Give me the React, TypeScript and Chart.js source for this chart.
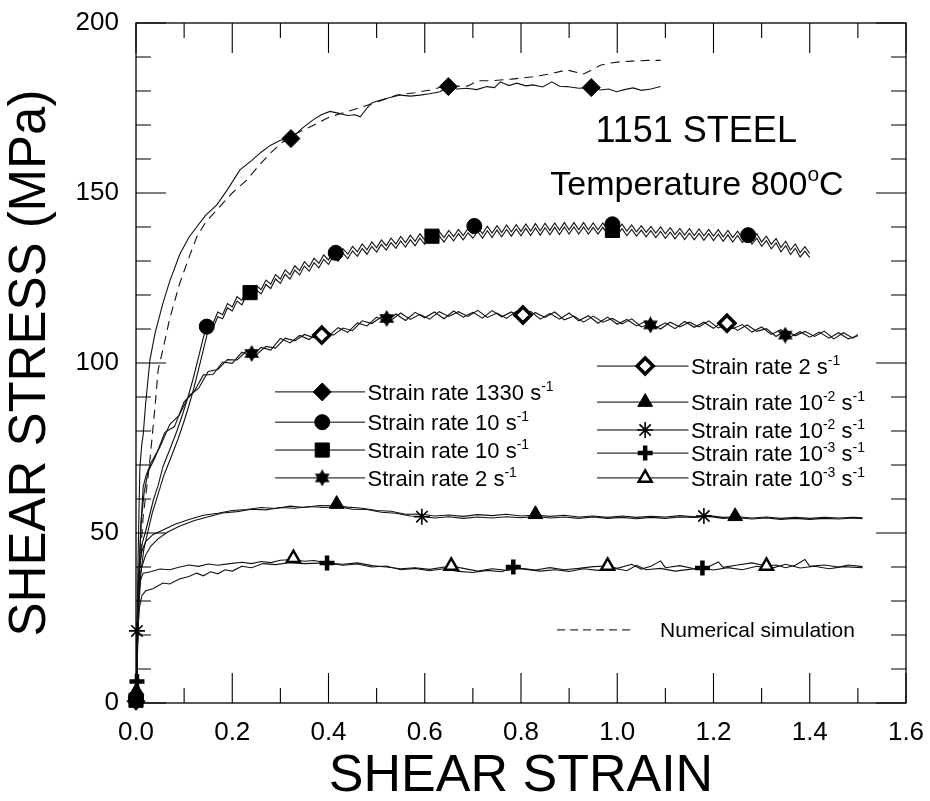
import React, { useEffect, useRef } from 'react';
import { Chart, registerables } from 'chart.js';
import { drawPoint } from 'chart.js/helpers';

Chart.register(...registerables);

type P = [number, number];

// ---------- axes ----------
const X_TICK_VALUES = [0, 0.2, 0.4, 0.6, 0.8, 1.0, 1.2, 1.4, 1.6];
const X_TICK_LABELS = ['0.0', '0.2', '0.4', '0.6', '0.8', '1.0', '1.2', '1.4', '1.6'];
const Y_TICK_VALUES = [0, 50, 100, 150, 200];
const Y_TICK_LABELS = ['0', '50', '100', '150', '200'];
const X_TITLE = 'SHEAR STRAIN';
const Y_TITLE = 'SHEAR STRESS (MPa)';

// ---------- curves (shear strain, shear stress MPa) ----------
const rate1330Measured: P[] = [
  [0, 0], [0.002, 20], [0.004, 40], [0.006, 55], [0.008, 69], [0.012, 76], [0.015, 79], [0.02, 88],
  [0.029, 101], [0.04, 109], [0.056, 117.6], [0.07, 124], [0.091, 132], [0.11, 137], [0.126, 140],
  [0.145, 143.5], [0.168, 146.5], [0.19, 151], [0.216, 156.8], [0.24, 159.5], [0.26, 162], [0.279, 164],
  [0.3, 165.5], [0.322, 166], [0.345, 169], [0.368, 171.5], [0.385, 173], [0.403, 174], [0.42, 173.5],
  [0.44, 172.8], [0.455, 173], [0.466, 172.4], [0.48, 175], [0.49, 176.5], [0.5, 177], [0.52, 177.8],
  [0.549, 178.8], [0.57, 178.5], [0.59, 178.8], [0.61, 179.2], [0.632, 179.8], [0.649, 181.3],
  [0.667, 180.6], [0.687, 180.8], [0.708, 180.4], [0.729, 181.3], [0.745, 181], [0.757, 182.7],
  [0.775, 181.6], [0.791, 182.3], [0.81, 181.5], [0.825, 181.8], [0.845, 181.2], [0.864, 182.7],
  [0.88, 181.4], [0.895, 181.3], [0.92, 180.8], [0.946, 181], [0.965, 180.3], [0.982, 180.6],
  [0.999, 179.8], [1.015, 180.4], [1.033, 180.9], [1.05, 180.2], [1.07, 180.6], [1.09, 181.3],
];

const rate1330Simulation: P[] = [
  [0, 0], [0.003, 15], [0.006, 30], [0.01, 45], [0.015, 55], [0.022, 63], [0.029, 71.5], [0.04, 88],
  [0.046, 98], [0.056, 104], [0.07, 113], [0.091, 123.5], [0.11, 131], [0.126, 137], [0.145, 141.5],
  [0.168, 145], [0.2, 150], [0.23, 153.8], [0.255, 158], [0.279, 161.7], [0.305, 165], [0.334, 167.6],
  [0.37, 170], [0.403, 172.4], [0.44, 174], [0.472, 175.4], [0.51, 177.2], [0.542, 178.8], [0.58, 179.5],
  [0.611, 180.3], [0.638, 181.3], [0.69, 181.5], [0.71, 183], [0.736, 183], [0.78, 183.5], [0.825, 184.2],
  [0.86, 185], [0.895, 186.2], [0.93, 185], [0.945, 186], [0.965, 187.6], [0.985, 188.2], [1.006, 188.6],
  [1.03, 188.8], [1.064, 189], [1.09, 189],
];

const rate10Circle: P[] = [
  [0, 0], [0.002, 12], [0.004, 25], [0.008, 40], [0.013, 47], [0.019, 50], [0.028, 55], [0.036, 59.7],
  [0.046, 64], [0.056, 69.5], [0.07, 74.5], [0.085, 80], [0.097, 85], [0.108, 90], [0.118, 95], [0.126, 99.5],
  [0.133, 103.5], [0.14, 107.5], [0.147, 110.7],
  [0.15, 112.0], [0.16, 111.6], [0.17, 115.0], [0.18, 114.2], [0.19, 117.5], [0.2, 116.5], [0.21, 119.5],
  [0.22, 118.4], [0.23, 121.2], [0.24, 120.0], [0.25, 122.8], [0.26, 121.6], [0.27, 124.4], [0.28, 123.2],
  [0.29, 126.0], [0.3, 124.7], [0.31, 127.4], [0.32, 126.0], [0.33, 128.6], [0.34, 127.2], [0.35, 129.8],
  [0.36, 128.3], [0.37, 130.8], [0.38, 129.3], [0.39, 131.8], [0.4, 130.3], [0.41, 132.8], [0.42, 131.2],
  [0.43, 133.6], [0.44, 132.0], [0.45, 134.3], [0.46, 132.7], [0.47, 135.0], [0.48, 133.3], [0.49, 135.6],
  [0.5, 133.9], [0.51, 136.2], [0.52, 134.5], [0.53, 136.7], [0.54, 135.0], [0.55, 137.2], [0.56, 135.4],
  [0.57, 137.6], [0.58, 135.8], [0.59, 138.0], [0.6, 136.2], [0.61, 138.4], [0.62, 136.6], [0.63, 138.7],
  [0.64, 136.9], [0.65, 139.0], [0.66, 137.2], [0.67, 139.3], [0.68, 137.5], [0.69, 139.6], [0.7, 138.0],
  [0.71, 140.0], [0.72, 138.0], [0.73, 140.2], [0.74, 138.2], [0.75, 140.4], [0.76, 138.4], [0.77, 140.6],
  [0.78, 138.6], [0.79, 140.7], [0.8, 138.7], [0.81, 140.9], [0.82, 138.8], [0.83, 141.0], [0.84, 138.9],
  [0.85, 141.1], [0.86, 139.0], [0.87, 141.2], [0.88, 139.1], [0.89, 141.3], [0.9, 139.2], [0.91, 141.3],
  [0.92, 139.2], [0.93, 141.3], [0.94, 139.2], [0.95, 141.2], [0.96, 139.2], [0.97, 141.2], [0.98, 139.1],
  [0.99, 141.0], [1.0, 139.0], [1.01, 140.8], [1.02, 138.8], [1.03, 140.6], [1.04, 138.6], [1.05, 140.4],
  [1.06, 138.4], [1.07, 140.2], [1.08, 138.2], [1.09, 140.0], [1.1, 138.0], [1.11, 139.8], [1.12, 137.8],
  [1.13, 139.6], [1.14, 137.6], [1.15, 139.5], [1.16, 137.5], [1.17, 139.4], [1.18, 137.4], [1.19, 139.3],
  [1.2, 137.3], [1.21, 139.2], [1.22, 137.1], [1.23, 139.0], [1.24, 136.9], [1.25, 138.8], [1.26, 136.7],
  [1.27, 138.6], [1.28, 136.3], [1.29, 138.0], [1.3, 135.6], [1.31, 137.3], [1.32, 134.9], [1.33, 136.6],
  [1.34, 134.0], [1.35, 135.8], [1.36, 133.2], [1.37, 135.0], [1.38, 132.5], [1.39, 134.2], [1.4, 132.2],
];

const rate10Square: P[] = [
  [0, 0], [0.003, 14], [0.006, 28], [0.01, 38], [0.016, 45], [0.024, 50], [0.034, 56], [0.045, 61],
  [0.058, 67], [0.072, 72], [0.087, 77.5], [0.099, 82.5], [0.11, 87.5], [0.12, 92.5], [0.128, 97], [0.135, 101],
  [0.141, 104.5], [0.147, 108],
  [0.15, 110.4], [0.16, 110.3], [0.17, 113.6], [0.18, 113.0], [0.19, 116.2], [0.2, 115.3], [0.21, 118.2],
  [0.22, 117.1], [0.23, 120.0], [0.24, 118.8], [0.25, 121.5], [0.26, 120.3], [0.27, 123.1], [0.28, 121.9],
  [0.29, 124.7], [0.3, 123.4], [0.31, 126.1], [0.32, 124.7], [0.33, 127.3], [0.34, 125.9], [0.35, 128.5],
  [0.36, 127.0], [0.37, 129.5], [0.38, 128.0], [0.39, 130.5], [0.4, 129.0], [0.41, 131.5], [0.42, 129.9],
  [0.43, 132.3], [0.44, 130.7], [0.45, 133.0], [0.46, 131.4], [0.47, 133.7], [0.48, 132.0], [0.49, 134.3],
  [0.5, 132.6], [0.51, 134.9], [0.52, 133.2], [0.53, 135.4], [0.54, 133.7], [0.55, 135.9], [0.56, 134.1],
  [0.57, 136.3], [0.58, 134.5], [0.59, 136.7], [0.6, 134.9], [0.61, 137.1], [0.62, 135.3], [0.63, 137.4],
  [0.64, 135.6], [0.65, 137.7], [0.66, 135.9], [0.67, 138.0], [0.68, 136.2], [0.69, 138.3], [0.7, 136.7],
  [0.71, 138.7], [0.72, 136.7], [0.73, 138.9], [0.74, 136.9], [0.75, 139.1], [0.76, 137.1], [0.77, 139.3],
  [0.78, 137.3], [0.79, 139.4], [0.8, 137.4], [0.81, 139.6], [0.82, 137.5], [0.83, 139.7], [0.84, 137.6],
  [0.85, 139.8], [0.86, 137.7], [0.87, 139.9], [0.88, 137.8], [0.89, 140.0], [0.9, 137.9], [0.91, 140.0],
  [0.92, 137.9], [0.93, 140.0], [0.94, 137.9], [0.95, 139.9], [0.96, 137.9], [0.97, 139.9], [0.98, 137.8],
  [0.99, 139.7], [1.0, 137.7], [1.01, 139.5], [1.02, 137.5], [1.03, 139.3], [1.04, 137.3], [1.05, 139.1],
  [1.06, 137.1], [1.07, 138.9], [1.08, 136.9], [1.09, 138.7], [1.1, 136.7], [1.11, 138.5], [1.12, 136.5],
  [1.13, 138.3], [1.14, 136.3], [1.15, 138.2], [1.16, 136.2], [1.17, 138.1], [1.18, 136.1], [1.19, 138.0],
  [1.2, 136.0], [1.21, 137.9], [1.22, 135.8], [1.23, 137.7], [1.24, 135.6], [1.25, 137.5], [1.26, 135.4],
  [1.27, 137.3], [1.28, 135.0], [1.29, 136.7], [1.3, 134.3], [1.31, 136.0], [1.32, 133.6], [1.33, 135.3],
  [1.34, 132.7], [1.35, 134.5], [1.36, 131.9], [1.37, 133.7], [1.38, 131.2], [1.39, 132.9], [1.4, 131.0],
];

const rate2Star: P[] = [
  [0, 0], [0.002, 15], [0.005, 35], [0.01, 52], [0.015, 63.6], [0.02, 66.5],
  [0.03, 70.3], [0.05, 75.4], [0.07, 81.9], [0.09, 84.7], [0.11, 90.4], [0.13, 92.5], [0.15, 97.5],
  [0.17, 98.1], [0.19, 101.0], [0.21, 100.9], [0.23, 103.6], [0.25, 102.4], [0.27, 104.9], [0.29, 104.4],
  [0.31, 107.3], [0.33, 106.5], [0.35, 108.4], [0.37, 107.4], [0.39, 109.6], [0.41, 108.2], [0.43, 110.3],
  [0.45, 109.5], [0.47, 112.4], [0.49, 111.6], [0.51, 113.6], [0.53, 112.6], [0.55, 114.7], [0.57, 112.8],
  [0.59, 114.3], [0.61, 112.9], [0.63, 115.1], [0.65, 113.7], [0.67, 115.1], [0.69, 113.7], [0.71, 115.5],
  [0.73, 113.4], [0.75, 114.7], [0.77, 113.1], [0.79, 115.2], [0.81, 113.6], [0.83, 114.8], [0.85, 113.4],
  [0.87, 115.0], [0.89, 112.7], [0.91, 113.8], [0.93, 112.0], [0.95, 113.8], [0.97, 112.0], [0.99, 113.1],
  [1.01, 111.5], [1.03, 113.0], [1.05, 110.6], [1.07, 111.6], [1.09, 110.0], [1.11, 112.0], [1.13, 110.6],
  [1.15, 112.0], [1.17, 110.6], [1.19, 112.4], [1.21, 110.3], [1.23, 111.4], [1.25, 109.6], [1.27, 111.2],
  [1.29, 109.3], [1.31, 110.1], [1.33, 107.8], [1.35, 109.6], [1.37, 108.0], [1.39, 109.3], [1.41, 107.8],
  [1.43, 109.4], [1.45, 107.1], [1.47, 108.9], [1.49, 107.3], [1.5, 108.4],
];

const rate2Diamond: P[] = [
  [0, 0], [0.003, 18], [0.006, 38], [0.011, 54], [0.017, 62], [0.025, 68],
  [0.04, 72.3], [0.06, 79.6], [0.08, 81.3], [0.1, 88.6], [0.12, 91.4], [0.14, 96.5], [0.16, 96.6],
  [0.18, 100.3], [0.2, 99.9], [0.22, 103.2], [0.24, 102.0], [0.26, 104.6], [0.28, 103.8], [0.3, 107.2],
  [0.32, 105.9], [0.34, 108.1], [0.36, 106.9], [0.38, 109.3], [0.4, 107.9], [0.42, 110.4], [0.44, 109.0],
  [0.46, 111.8], [0.48, 110.9], [0.5, 113.5], [0.52, 112.2], [0.54, 114.4], [0.56, 112.5], [0.58, 114.9],
  [0.6, 113.3], [0.62, 115.0], [0.64, 113.0], [0.66, 115.3], [0.68, 113.5], [0.7, 114.9], [0.72, 113.2],
  [0.74, 115.4], [0.76, 113.6], [0.78, 115.0], [0.8, 113.3], [0.82, 115.2], [0.84, 112.9], [0.86, 114.6],
  [0.88, 112.9], [0.9, 114.7], [0.92, 112.4], [0.94, 113.9], [0.96, 111.7], [0.98, 113.5], [1.0, 111.4],
  [1.02, 112.8], [1.04, 110.9], [1.06, 112.4], [1.08, 110.3], [1.1, 111.8], [1.12, 110.1], [1.14, 112.2],
  [1.16, 110.5], [1.18, 112.0], [1.2, 110.2], [1.22, 112.3], [1.24, 110.1], [1.26, 111.3], [1.28, 109.1],
  [1.3, 110.6], [1.32, 108.4], [1.34, 109.8], [1.36, 107.7], [1.38, 109.2], [1.4, 107.6], [1.42, 109.1],
  [1.44, 107.3], [1.46, 108.9], [1.48, 107.1], [1.5, 108.0],
];

const rate1e2Triangle: P[] = [
  [0, 0], [0.002, 18], [0.004, 32], [0.007, 40], [0.012, 44.5], [0.02, 47.5], [0.035, 49.5], [0.056, 50.9],
  [0.08, 52.5], [0.11, 54], [0.14, 55.2], [0.17, 55.8], [0.2, 56.6], [0.23, 56.9], [0.26, 57.5], [0.29, 57.2],
  [0.32, 57.9], [0.35, 57.5], [0.38, 58.1], [0.417, 58.0], [0.44, 57.6], [0.47, 57.3], [0.5, 56.6],
  [0.53, 56.4], [0.56, 55.5], [0.59, 55.6], [0.62, 55.0], [0.65, 55.3], [0.68, 54.9], [0.71, 55.4],
  [0.74, 55.1], [0.77, 55.5], [0.8, 55.0], [0.83, 55.3], [0.86, 54.9], [0.89, 55.2], [0.92, 54.7],
  [0.95, 55.0], [0.98, 54.6], [1.01, 55.0], [1.04, 54.6], [1.07, 54.9], [1.1, 54.7], [1.13, 55.1],
  [1.16, 54.8], [1.19, 55.1], [1.22, 54.6], [1.25, 54.8], [1.28, 54.4], [1.31, 54.7], [1.34, 54.3],
  [1.37, 54.6], [1.4, 54.3], [1.43, 54.6], [1.46, 54.4], [1.49, 54.6], [1.51, 54.5],
];

const rate1e2Asterisk: P[] = [
  [0, 0], [0.002, 21.2], [0.004, 30], [0.007, 36], [0.012, 40], [0.02, 43.5], [0.03, 46], [0.045, 48.2],
  [0.065, 50.2], [0.09, 52], [0.12, 53.6], [0.15, 54.8], [0.18, 55.9], [0.21, 56.3], [0.24, 57.0],
  [0.27, 56.8], [0.3, 57.5], [0.33, 57.3], [0.36, 57.8], [0.39, 57.5], [0.42, 57.7], [0.45, 57.0],
  [0.48, 56.9], [0.51, 56.1], [0.54, 55.8], [0.57, 55.0], [0.594, 54.9], [0.62, 54.4], [0.65, 54.8],
  [0.68, 54.3], [0.71, 54.7], [0.74, 54.4], [0.77, 54.8], [0.8, 54.5], [0.83, 54.9], [0.86, 54.4],
  [0.89, 54.7], [0.92, 54.3], [0.95, 54.7], [0.98, 54.3], [1.01, 54.6], [1.04, 54.2], [1.07, 54.6],
  [1.1, 54.3], [1.13, 54.7], [1.16, 54.6], [1.19, 54.9], [1.22, 54.3], [1.25, 54.5], [1.28, 54.1],
  [1.31, 54.4], [1.34, 54.0], [1.37, 54.3], [1.4, 54.0], [1.43, 54.3], [1.46, 54.1], [1.49, 54.4], [1.51, 54.2],
];

const rate1e3Triangle: P[] = [
  [0, 0], [0.002, 15], [0.005, 30], [0.009, 36], [0.015, 38.2], [0.03, 38.6], [0.05, 39.4], [0.07, 39.2],
  [0.091, 40], [0.11, 40.6], [0.13, 40.2], [0.15, 40.9], [0.17, 40.5], [0.195, 41.0], [0.22, 41.4],
  [0.24, 41.0], [0.26, 41.6], [0.28, 41.3], [0.3, 42.0], [0.327, 42.2], [0.35, 41.7], [0.37, 41.9],
  [0.4, 41.1], [0.43, 40.8], [0.46, 41.2], [0.49, 40.4], [0.52, 40.0], [0.55, 39.5], [0.58, 39.8],
  [0.61, 39.3], [0.655, 40.3], [0.68, 39.6], [0.71, 38.8], [0.74, 39.5], [0.77, 39.0], [0.8, 39.6],
  [0.83, 39.1], [0.86, 39.8], [0.89, 39.2], [0.92, 39.6], [0.95, 40.1], [0.98, 40.3], [1.0, 39.6],
  [1.03, 40.8], [1.05, 39.4], [1.07, 40.2], [1.09, 41.8], [1.1, 39.8], [1.13, 40.4], [1.16, 39.5],
  [1.19, 40.1], [1.21, 41.5], [1.22, 39.9], [1.25, 40.6], [1.28, 41.2], [1.31, 40.3], [1.33, 40.6],
  [1.35, 39.8], [1.37, 40.5], [1.39, 42.2], [1.4, 40.2], [1.43, 40.6], [1.46, 40.0], [1.48, 40.6], [1.51, 40.1],
];

const rate1e3Cross: P[] = [
  [0, 0], [0.002, 12], [0.004, 22], [0.007, 28], [0.012, 31.5], [0.02, 33], [0.035, 33.6], [0.056, 35.3],
  [0.07, 35.0], [0.09, 36.5], [0.11, 37.2], [0.126, 38.2], [0.14, 37.4], [0.155, 38.6], [0.17, 38.0],
  [0.185, 39.2], [0.2, 38.8], [0.22, 40.2], [0.24, 39.8], [0.264, 41.0], [0.29, 40.7], [0.32, 41.3],
  [0.35, 41.0], [0.397, 41.2], [0.43, 40.5], [0.46, 40.9], [0.49, 40.0], [0.52, 40.3], [0.55, 39.2],
  [0.58, 39.6], [0.61, 38.9], [0.64, 39.5], [0.67, 38.7], [0.7, 38.4], [0.73, 39.0], [0.76, 38.6],
  [0.784, 39.8], [0.81, 39.3], [0.84, 38.8], [0.87, 39.2], [0.9, 38.7], [0.93, 39.5], [0.96, 39.0],
  [0.99, 39.7], [1.02, 38.9], [1.04, 40.5], [1.06, 39.2], [1.09, 39.6], [1.12, 38.8], [1.15, 39.3],
  [1.177, 39.7], [1.2, 39.1], [1.23, 39.8], [1.26, 39.2], [1.29, 40.2], [1.32, 39.6], [1.35, 40.8],
  [1.38, 39.7], [1.41, 40.2], [1.44, 39.5], [1.47, 40.1], [1.51, 39.8],
];

// ---------- markers placed on the curves ----------
const markers1330: P[] = [[0, 0.5], [0.322, 166], [0.649, 181.3], [0.946, 181]];
const markers10Circle: P[] = [[0, 1.5], [0.147, 110.7], [0.415, 132.4], [0.703, 140.3], [0.99, 140.8], [1.272, 137.6]];
const markers10Square: P[] = [[0, 0.8], [0.237, 120.7], [0.615, 137.3], [0.99, 139]];
const markers2Star: P[] = [[0.2405, 102.8], [0.521, 113.1], [1.069, 111.2], [1.349, 108.2]];
const markers2Diamond: P[] = [[0.386, 108.2], [0.804, 114.1], [1.228, 111.7]];
const markers1e2Triangle: P[] = [[0.001, 3.5], [0.417, 58.5], [0.83, 55.5], [1.245, 54.9]];
const markers1e2Asterisk: P[] = [[0.002, 21.2], [0.594, 54.8], [1.18, 55]];
const markers1e3Cross: P[] = [[0.002, 6.3], [0.397, 41.2], [0.784, 40.0], [1.177, 39.7]];
const markers1e3Triangle: P[] = [[0.327, 42.6], [0.655, 40.3], [0.98, 40.3], [1.31, 40.3]];

// ---------- text ----------
type Rich = [string, boolean][];
const LEGEND_LEFT: Rich[] = [
  [['Strain rate 1330 s', false], ['-1', true]],
  [['Strain rate 10 s', false], ['-1', true]],
  [['Strain rate 10 s', false], ['-1', true]],
  [['Strain rate 2 s', false], ['-1', true]],
];
const LEGEND_RIGHT: Rich[] = [
  [['Strain rate 2 s', false], ['-1', true]],
  [['Strain rate 10', false], ['-2', true], [' s', false], ['-1', true]],
  [['Strain rate 10', false], ['-2', true], [' s', false], ['-1', true]],
  [['Strain rate 10', false], ['-3', true], [' s', false], ['-1', true]],
  [['Strain rate 10', false], ['-3', true], [' s', false], ['-1', true]],
];
const TITLE_1: Rich = [['1151 STEEL', false]];
const TITLE_2: Rich = [['Temperature 800', false], ['o', true], ['C', false]];
const SIM_LABEL = 'Numerical simulation';

const FONT = '"Liberation Sans", Arial, Helvetica, sans-serif';

function makeHexagram(size: number): HTMLCanvasElement {
  const c = document.createElement('canvas');
  c.width = size;
  c.height = size;
  const g = c.getContext('2d')!;
  const r = size / 2;
  g.fillStyle = '#000';
  for (const rot of [-Math.PI / 2, Math.PI / 2]) {
    g.beginPath();
    for (let k = 0; k < 3; k++) {
      const a = rot + (k * 2 * Math.PI) / 3;
      g.lineTo(r + r * Math.cos(a), r + r * Math.sin(a));
    }
    g.closePath();
    g.fill();
  }
  return c;
}

type MarkStyle = { pointStyle: any; radius: number; bg: string; bw: number };

export default function App() {
  const ref = useRef<HTMLCanvasElement | null>(null);

  useEffect(() => {
    if (!ref.current) return;
    const hexagram = makeHexagram(17);
    const S: Record<string, MarkStyle> = {
      diamond: { pointStyle: 'rectRot', radius: 9, bg: '#000', bw: 1 },
      circle: { pointStyle: 'circle', radius: 7.5, bg: '#000', bw: 1 },
      square: { pointStyle: 'rect', radius: 10, bg: '#000', bw: 1 },
      star6: { pointStyle: hexagram, radius: 8, bg: '#000', bw: 1 },
      hollowDiamond: { pointStyle: 'rectRot', radius: 8, bg: '#fff', bw: 3.5 },
      triangle: { pointStyle: 'triangle', radius: 8.5, bg: '#000', bw: 1 },
      asterisk: { pointStyle: 'star', radius: 8, bg: '#000', bw: 1.6 },
      cross: { pointStyle: 'cross', radius: 7.5, bg: '#000', bw: 4.5 },
      hollowTriangle: { pointStyle: 'triangle', radius: 7.5, bg: '#fff', bw: 2.5 },
    };

    const toXY = (d: P[]) => d.map(([x, y]) => ({ x, y }));
    const lineDs = (d: P[], dash: number[] = []) => ({
      data: toXY(d), showLine: true, borderColor: '#111', borderWidth: 1.1, pointRadius: 0,
      pointHoverRadius: 0, borderDash: dash, tension: 0, fill: false, order: 2,
    });
    const markDs = (d: P[], st: MarkStyle) => ({
      data: toXY(d), showLine: false, pointStyle: st.pointStyle, pointRadius: st.radius,
      pointHoverRadius: st.radius, pointBackgroundColor: st.bg, pointBorderColor: '#000',
      pointBorderWidth: st.bw, order: 1, clip: false,
    });

    const legendLeft: MarkStyle[] = [S.diamond, S.circle, S.square, S.star6];
    const legendRight: MarkStyle[] = [S.hollowDiamond, S.triangle, S.asterisk, S.cross, S.hollowTriangle];
    // legend rows, in data units (y = stress of the row)
    const leftRowsY = [91.5, 82.6, 74.4, 66.2];
    const rightRowsY = [99.1, 88.5, 80.3, 73.5, 66.2];

    const drawRich = (ctx: CanvasRenderingContext2D, x: number, y: number, parts: Rich, size: number, align: 'left' | 'center' = 'left') => {
      const supSize = Math.round(size * 0.62);
      let total = 0;
      for (const [t, sup] of parts) {
        ctx.font = `${sup ? supSize : size}px ${FONT}`;
        total += ctx.measureText(t).width;
      }
      let cx = align === 'center' ? x - total / 2 : x;
      ctx.textAlign = 'left';
      ctx.textBaseline = 'alphabetic';
      for (const [t, sup] of parts) {
        ctx.font = `${sup ? supSize : size}px ${FONT}`;
        ctx.fillText(t, cx, sup ? y - size * 0.42 : y);
        cx += ctx.measureText(t).width;
      }
    };

    const framePlugin = {
      id: 'frameTicks',
      afterDatasetsDraw(chart: any) {
        const { ctx, chartArea: a, scales } = chart;
        const xs = scales.x, ys = scales.y;
        ctx.save();
        ctx.strokeStyle = '#000';
        ctx.lineWidth = 1.3;
        ctx.strokeRect(a.left, a.top, a.right - a.left, a.bottom - a.top);
        ctx.lineWidth = 1.1;
        ctx.beginPath();
        for (let i = 0; i <= 16; i++) {
          const px = xs.getPixelForValue(i / 10);
          const len = i % 2 === 0 ? 30 : 15;
          ctx.moveTo(px, a.bottom); ctx.lineTo(px, a.bottom - len);
          ctx.moveTo(px, a.top); ctx.lineTo(px, a.top + len);
        }
        for (let i = 0; i <= 20; i++) {
          const py = ys.getPixelForValue(i * 10);
          const len = i % 5 === 0 ? 30 : 15;
          ctx.moveTo(a.left, py); ctx.lineTo(a.left + len, py);
          ctx.moveTo(a.right, py); ctx.lineTo(a.right - len, py);
        }
        ctx.stroke();
        ctx.restore();
      },
    };

    const notesPlugin = {
      id: 'notes',
      afterDraw(chart: any) {
        const { ctx, scales } = chart;
        const X = (v: number) => scales.x.getPixelForValue(v);
        const Y = (v: number) => scales.y.getPixelForValue(v);
        ctx.save();
        ctx.fillStyle = '#000';
        ctx.strokeStyle = '#000';

        const row = (x0: number, xm: number, x1: number, xt: number, yv: number, st: MarkStyle, label: Rich) => {
          const py = Y(yv);
          ctx.lineWidth = 1;
          ctx.setLineDash([]);
          ctx.beginPath();
          ctx.moveTo(X(x0), py);
          ctx.lineTo(X(x1), py);
          ctx.stroke();
          ctx.fillStyle = st.bg;
          ctx.strokeStyle = '#000';
          ctx.lineWidth = st.bw;
          drawPoint(ctx, { pointStyle: st.pointStyle, radius: st.radius, borderWidth: st.bw, rotation: 0 } as any, X(xm), py);
          ctx.fillStyle = '#000';
          drawRich(ctx, X(xt), py + 8, label, 22);
        };
        LEGEND_LEFT.forEach((lab, i) => row(0.289, 0.387, 0.476, 0.481, leftRowsY[i], legendLeft[i], lab));
        LEGEND_RIGHT.forEach((lab, i) => row(0.958, 1.058, 1.148, 1.153, rightRowsY[i], legendRight[i], lab));

        // numerical simulation key
        ctx.lineWidth = 1;
        ctx.setLineDash([8, 5]);
        ctx.beginPath();
        ctx.moveTo(X(0.875), Y(21.5));
        ctx.lineTo(X(1.035), Y(21.5));
        ctx.stroke();
        ctx.setLineDash([]);
        ctx.fillStyle = '#000';
        ctx.font = `21px ${FONT}`;
        ctx.textAlign = 'left';
        ctx.textBaseline = 'alphabetic';
        ctx.fillText(SIM_LABEL, X(1.089), Y(21.5) + 7.5);

        drawRich(ctx, X(1.164), Y(165), TITLE_1, 36, 'center');
        drawRich(ctx, X(0.861), Y(149.4), TITLE_2, 34, 'left');
        ctx.restore();
      },
    };

    const chart = new Chart(ref.current, {
      type: 'scatter',
      data: {
        datasets: [
          markDs(markers1330, S.diamond),
          markDs(markers10Circle, S.circle),
          markDs(markers10Square, S.square),
          markDs(markers2Star, S.star6),
          markDs(markers2Diamond, S.hollowDiamond),
          markDs(markers1e2Triangle, S.triangle),
          markDs(markers1e2Asterisk, S.asterisk),
          markDs(markers1e3Cross, S.cross),
          markDs(markers1e3Triangle, S.hollowTriangle),
          lineDs(rate1330Measured),
          lineDs(rate1330Simulation, [9, 6]),
          lineDs(rate10Circle),
          lineDs(rate10Square),
          lineDs(rate2Star),
          lineDs(rate2Diamond),
          lineDs(rate1e2Triangle),
          lineDs(rate1e2Asterisk),
          lineDs(rate1e3Triangle),
          lineDs(rate1e3Cross),
        ] as any,
      },
      options: {
        animation: false,
        responsive: false,
        devicePixelRatio: 1,
        events: [],
        layout: { padding: { top: 23, right: 24, left: 0, bottom: 0 } },
        plugins: { legend: { display: false }, tooltip: { enabled: false } },
        scales: {
          x: {
            type: 'linear', min: 0, max: 1.6, position: 'bottom',
            grid: { display: false, drawTicks: false },
            border: { display: false },
            afterBuildTicks: (s: any) => { s.ticks = X_TICK_VALUES.map((v) => ({ value: v })); },
            ticks: {
              padding: 14, color: '#000', maxRotation: 0, autoSkip: false,
              font: { size: 26, family: FONT },
              callback: (_v: any, i: number) => X_TICK_LABELS[i],
            },
            title: {
              display: true, text: X_TITLE, color: '#000', padding: 0,
              font: { size: 52, family: FONT, lineHeight: 0.92 },
            },
            afterFit: (s: any) => { s.height = 98; s.paddingLeft = 0; s.paddingRight = 0; },
          },
          y: {
            type: 'linear', min: 0, max: 200,
            grid: { display: false, drawTicks: false },
            border: { display: false },
            afterBuildTicks: (s: any) => { s.ticks = Y_TICK_VALUES.map((v) => ({ value: v })); },
            ticks: {
              padding: 17, color: '#000', autoSkip: false,
              font: { size: 26, family: FONT },
              callback: (_v: any, i: number) => Y_TICK_LABELS[i],
            },
            title: {
              display: true, text: Y_TITLE, color: '#000', padding: 0,
              font: { size: 51, family: FONT, lineHeight: 1.2 },
            },
            afterFit: (s: any) => { s.width = 136; s.paddingTop = 0; s.paddingBottom = 0; },
          },
        },
      },
      plugins: [framePlugin, notesPlugin],
    } as any);
    return () => chart.destroy();
  }, []);

  return (
    <div style={{ position: 'fixed', left: 0, top: 0, width: 930, height: 801, background: '#fff' }}>
      <canvas ref={ref} width={930} height={801} style={{ display: 'block' }} />
    </div>
  );
}
